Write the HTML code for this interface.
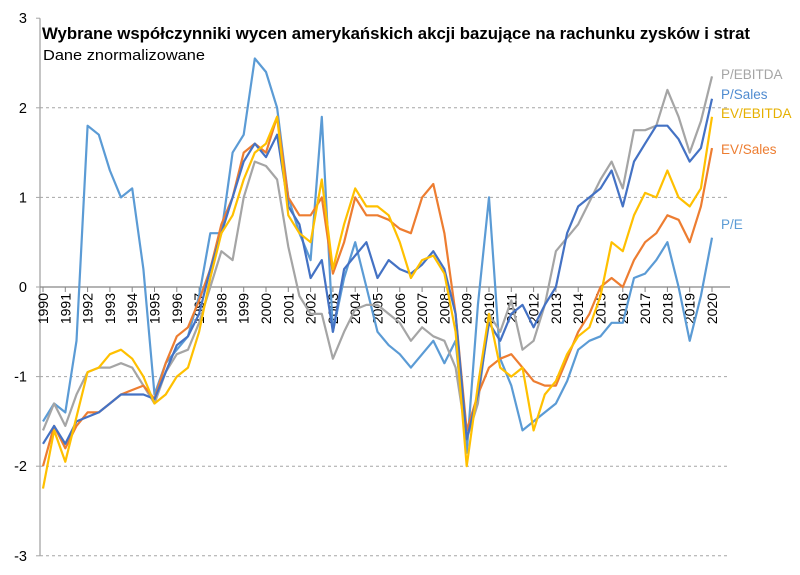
<!DOCTYPE html>
<html><head><meta charset="utf-8"><style>
body{margin:0;background:#fff;}
svg{display:block;font-family:"Liberation Sans",sans-serif;}
</style></head><body>
<svg id="chart" width="800" height="575">
<text x="42" y="39" font-size="16.5" font-weight="bold" fill="#000" textLength="708" lengthAdjust="spacingAndGlyphs">Wybrane współczynniki wycen amerykańskich akcji bazujące na rachunku zysków i strat</text>
<text x="43" y="60" font-size="15" fill="#000" textLength="162" lengthAdjust="spacingAndGlyphs">Dane znormalizowane</text>
<g id="grid"></g><g id="axes"></g><g id="series"></g><g id="legend"></g>
</svg>
<script>
const years=[1990,1991,1992,1993,1994,1995,1996,1997,1998,1999,2000,2001,2002,2003,2004,2005,2006,2007,2008,2009,2010,2011,2012,2013,2014,2015,2016,2017,2018,2019,2020];
const yTicks=[3,2,1,0,-1,-2,-3];
const seriesNames=["P/EBITDA","P/Sales","EV/EBITDA","EV/Sales","P/E"];
const pe=[-1.5,-1.3,-1.4,-0.6,1.8,1.7,1.3,1.0,1.1,0.2,-1.2,-0.85,-0.7,-0.55,-0.1,0.6,0.6,1.5,1.7,2.55,2.4,2.0,1.0,0.6,0.3,1.9,-0.5,0.1,0.5,0.0,-0.5,-0.65,-0.75,-0.9,-0.75,-0.6,-0.85,-0.6,-1.85,-0.2,1.0,-0.8,-1.1,-1.6,-1.5,-1.4,-1.3,-1.05,-0.7,-0.6,-0.55,-0.4,-0.4,0.1,0.15,0.3,0.5,0.0,-0.6,-0.1,0.55];
const pSales=[-1.75,-1.55,-1.75,-1.5,-1.45,-1.4,-1.3,-1.2,-1.2,-1.2,-1.25,-0.95,-0.65,-0.55,-0.3,0.2,0.6,1.0,1.4,1.6,1.45,1.7,0.9,0.7,0.1,0.3,-0.5,0.2,0.35,0.5,0.1,0.3,0.2,0.15,0.25,0.4,0.2,-0.3,-1.7,-1.2,-0.4,-0.6,-0.3,-0.2,-0.45,-0.2,0.0,0.6,0.9,1.0,1.1,1.3,0.9,1.4,1.6,1.8,1.8,1.65,1.4,1.55,2.1];
const pEbitda=[-1.6,-1.3,-1.55,-1.2,-0.95,-0.9,-0.9,-0.85,-0.9,-1.1,-1.3,-0.95,-0.75,-0.7,-0.4,0.0,0.4,0.3,1.0,1.4,1.35,1.2,0.45,-0.1,-0.3,-0.3,-0.8,-0.5,-0.25,-0.2,-0.2,-0.3,-0.4,-0.6,-0.45,-0.55,-0.6,-0.9,-1.7,-1.3,-0.3,-0.5,-0.15,-0.7,-0.6,-0.2,0.4,0.55,0.7,0.95,1.2,1.4,1.1,1.75,1.75,1.8,2.2,1.9,1.5,1.85,2.35];
const evEbitda=[-2.25,-1.6,-1.95,-1.45,-0.95,-0.9,-0.75,-0.7,-0.8,-1.0,-1.3,-1.2,-1.0,-0.9,-0.5,0.1,0.6,0.8,1.2,1.5,1.6,1.9,0.8,0.6,0.5,1.2,0.2,0.7,1.1,0.9,0.9,0.8,0.5,0.1,0.3,0.35,0.15,-0.5,-2.0,-1.1,-0.3,-0.9,-1.0,-0.9,-1.6,-1.2,-1.05,-0.75,-0.55,-0.45,-0.1,0.5,0.4,0.8,1.05,1.0,1.3,1.0,0.9,1.1,1.9];
const evSales=[-2.0,-1.55,-1.8,-1.55,-1.4,-1.4,-1.3,-1.2,-1.15,-1.1,-1.25,-0.85,-0.55,-0.45,-0.15,0.2,0.7,1.0,1.5,1.6,1.5,1.9,1.0,0.8,0.8,1.0,0.15,0.5,1.0,0.8,0.8,0.75,0.65,0.6,1.0,1.15,0.6,-0.3,-1.6,-1.2,-0.9,-0.8,-0.75,-0.9,-1.05,-1.1,-1.1,-0.8,-0.5,-0.3,0.0,0.1,0.0,0.3,0.5,0.6,0.8,0.75,0.5,0.9,1.55];
const NS="http://www.w3.org/2000/svg";
const X0=43,PXY=22.3,Y0=287,PXU=89.6;
const xS=t=>X0+(t-1990)*PXY;
const yS=v=>Y0-v*PXU;
function mk(tag,attrs,parent){const e=document.createElementNS(NS,tag);for(const k in attrs)e.setAttribute(k,attrs[k]);parent.appendChild(e);return e;}
const grid=document.getElementById('grid'),axes=document.getElementById('axes'),ser=document.getElementById('series'),leg=document.getElementById('legend');
yTicks.forEach(v=>{
  if(v!==0&&v!==3){const l=mk('line',{x1:40,x2:730,y1:yS(v),y2:yS(v),stroke:'#a6a6a6','stroke-dasharray':'3,3','stroke-width':1},grid);
  
  }
  const tm=mk('line',{x1:36,x2:40,y1:yS(v),y2:yS(v),stroke:'#a6a6a6'},axes);
  
  
  const t=mk('text',{x:27,y:yS(v)+5,'text-anchor':'end','font-size':14.5,fill:'#000'},axes);
  t.textContent=String(v);
  
  
});
const ya=mk('line',{x1:40,x2:40,y1:yS(3),y2:yS(-3),stroke:'#a6a6a6','stroke-width':1.3},axes);


const xa=mk('line',{x1:40,x2:730,y1:Y0,y2:Y0,stroke:'#868686','stroke-width':1.3},axes);


years.forEach(yr=>{
  const x=xS(yr);
  const tm=mk('line',{x1:x,x2:x,y1:Y0,y2:Y0+5,stroke:'#868686'},axes);
  
  
  const t=mk('text',{x:0,y:0,'text-anchor':'end','font-size':14,fill:'#000',transform:`translate(${x+5},${Y0+6}) rotate(-90)`},axes);
  t.textContent=String(yr);
  
  
});
const defs=[[pe,'#5B9BD5','pe-line'],[pEbitda,'#A5A5A5','p-ebitda-line'],[evSales,'#ED7D31','ev-sales-line'],[pSales,'#4472C4','p-sales-line'],[evEbitda,'#FFC000','ev-ebitda-line']];
defs.forEach(([arr,col,name])=>{
  const d=arr.map((v,i)=>(i?'L':'M')+xS(1990+i*0.5).toFixed(1)+','+yS(v).toFixed(1)).join('');
  const p=mk('path',{d:d,fill:'none',stroke:col,'stroke-width':2.2,'stroke-linejoin':'round'},ser);
  
  
});
const legCols=['#A5A5A5','#4F8BD0','#E6B000','#ED7D31','#5B9BD5'];
const legY=[79,99,118,154,229];
seriesNames.forEach((n,i)=>{
  const t=mk('text',{x:721,y:legY[i],'font-size':13.5,fill:legCols[i]},leg);
  t.textContent=n;
  
  
});
</script>
</body></html>
